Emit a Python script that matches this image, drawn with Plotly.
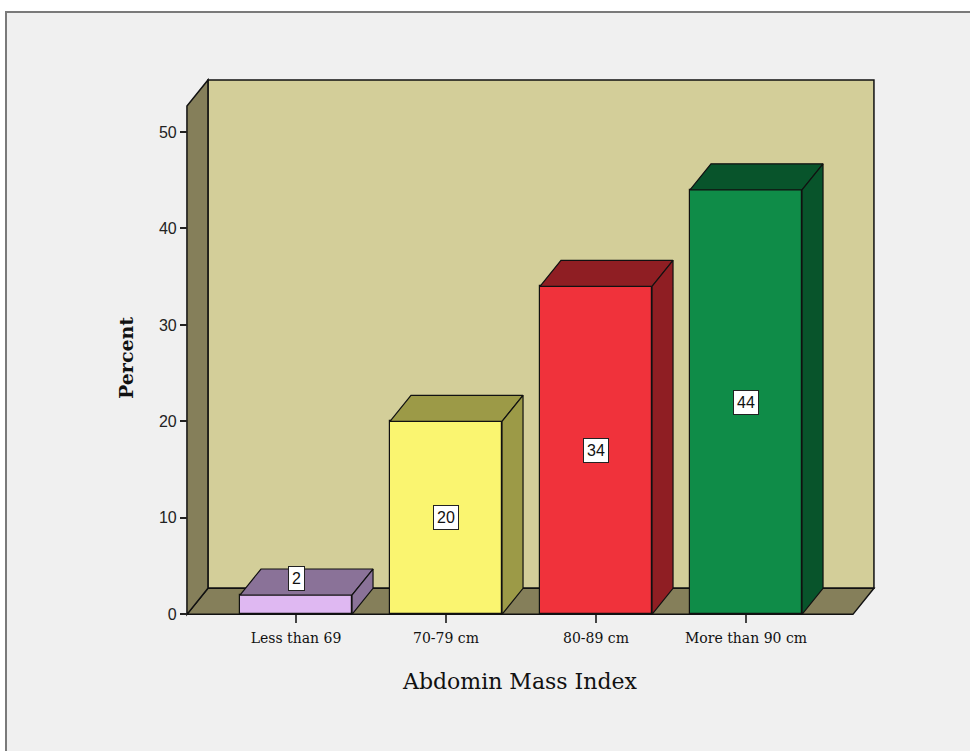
import plotly.graph_objects as go

# ---------------- data ----------------
categories = ["Less than 69", "70-79 cm", "80-89 cm", "More than 90 cm"]
values = [2, 20, 34, 44]
value_labels = ["2", "20", "34", "44"]
y_tick_vals = [0, 10, 20, 30, 40, 50]

# ---------------- style ----------------
front_colors = ["#DFB8F2", "#FAF570", "#F0323B", "#0F8C48"]
shade_colors = ["#8A7298", "#9C9A47", "#8F1E23", "#08542B"]
wall_back = "#D3CE99"
wall_dark = "#857F5A"
page_bg = "#F0F0F0"

BAR_W = 0.747      # bar width (category units)
DX = 0.14          # depth offset in x (category units)
DY = 2.7           # depth offset in y (percent units)
X_LO, X_HI = -0.727, 3.713   # front floor extent
Y_TOP = 52.7       # front top of side wall
X_RANGE = [-0.8, 3.9]
Y_RANGE = [-1.0, 55.6]

W, H = 970, 751
ML, MR, MT, MB = 176, 89, 78, 127

def px_x(p):   # page pixel -> paper x
    return (p - ML) / (W - ML - MR)

def px_y(p):   # page pixel -> paper y
    return (H - MB - p) / (H - MT - MB)

fig = go.Figure()
shapes = []

# page frame
shapes.append(dict(type="rect", xref="paper", yref="paper", layer="below",
                   x0=px_x(6), x1=px_x(1010), y0=px_y(12), y1=px_y(800),
                   fillcolor=page_bg, line=dict(color="#7A7A7A", width=2)))

edge = dict(color="#111111", width=1.5)
# back wall
shapes.append(dict(type="rect", xref="x", yref="y", layer="below",
                   x0=X_LO + DX, x1=X_HI + DX, y0=DY, y1=Y_TOP + DY,
                   fillcolor=wall_back, line=edge))
# floor
shapes.append(dict(type="path", xref="x", yref="y", layer="below",
                   path=f"M {X_LO},0 L {X_HI},0 L {X_HI+DX},{DY} L {X_LO+DX},{DY} Z",
                   fillcolor=wall_dark, line=edge))
# side wall
shapes.append(dict(type="path", xref="x", yref="y", layer="below",
                   path=f"M {X_LO},0 L {X_LO+DX},{DY} L {X_LO+DX},{Y_TOP+DY} L {X_LO},{Y_TOP} Z",
                   fillcolor=wall_dark, line=edge))

# bar top and side faces
for i, v in enumerate(values):
    l, r = i - BAR_W / 2, i + BAR_W / 2
    fig.add_trace(go.Scatter(
        x=[l, r, r + DX, l + DX, l], y=[v, v, v + DY, v + DY, v],
        fill="toself", fillcolor=shade_colors[i], mode="lines",
        line=dict(color="#111111", width=1.2), hoverinfo="skip", showlegend=False))
    fig.add_trace(go.Scatter(
        x=[r, r + DX, r + DX, r, r], y=[0, DY, v + DY, v, 0],
        fill="toself", fillcolor=shade_colors[i], mode="lines",
        line=dict(color="#111111", width=1.2), hoverinfo="skip", showlegend=False))

# bar front faces
fig.add_trace(go.Bar(
    x=list(range(len(categories))), y=values, width=BAR_W,
    marker=dict(color=front_colors, line=dict(color="#111111", width=1.2)),
    hoverinfo="skip", showlegend=False))

annotations = []
for i, (v, t) in enumerate(zip(values, value_labels)):
    yy = v / 2 if v >= 6 else v + DY * 0.65
    annotations.append(dict(x=i, y=yy, xref="x", yref="y", text=t, showarrow=False,
                            font=dict(family="Liberation Sans, Arial", size=16, color="#111"),
                            bgcolor="white", bordercolor="#222", borderwidth=1, borderpad=3))

annotations.append(dict(x=px_x(520), y=px_y(681), xref="paper", yref="paper",
                        text="Abdomin Mass Index", showarrow=False,
                        xanchor="center", yanchor="middle",
                        font=dict(family="DejaVu Serif", size=22, color="#111")))
annotations.append(dict(x=px_x(126), y=px_y(358), xref="paper", yref="paper",
                        text="<b>Percent</b>", textangle=-90, showarrow=False,
                        xanchor="center", yanchor="middle",
                        font=dict(family="DejaVu Serif", size=19, color="#111")))

fig.update_layout(
    width=W, height=H,
    margin=dict(l=ML, r=MR, t=MT, b=MB, autoexpand=False),
    paper_bgcolor="white", plot_bgcolor="rgba(0,0,0,0)",
    shapes=shapes, annotations=annotations, bargap=0,
    xaxis=dict(range=X_RANGE, anchor="free",
               position=(0 - Y_RANGE[0]) / (Y_RANGE[1] - Y_RANGE[0]),
               tickvals=list(range(len(categories))), ticktext=categories,
               ticks="outside", ticklen=8, tickwidth=2, tickcolor="#444",
               ticklabelstandoff=3,
               tickfont=dict(family="DejaVu Serif", size=14, color="#111"),
               showgrid=False, zeroline=False, showline=False, fixedrange=True),
    yaxis=dict(range=Y_RANGE, anchor="free",
               position=(X_LO - X_RANGE[0]) / (X_RANGE[1] - X_RANGE[0]),
               tickvals=y_tick_vals, ticks="outside", ticklen=7, tickwidth=2,
               tickcolor="#222",
               tickfont=dict(family="Liberation Sans, Arial", size=16, color="#222"),
               showgrid=False, zeroline=False, showline=False, fixedrange=True),
)

fig.write_html("out.html", config={"displayModeBar": False})
